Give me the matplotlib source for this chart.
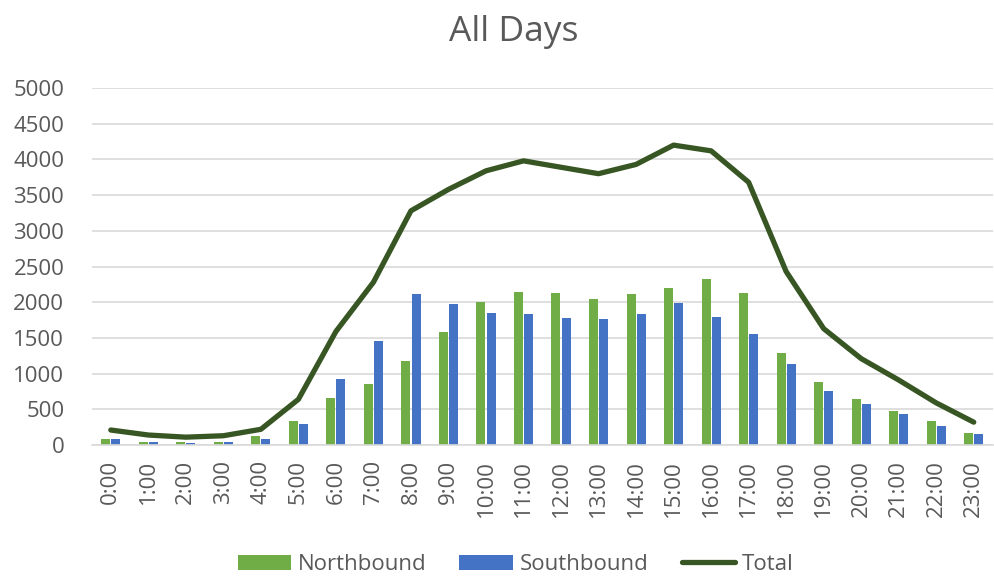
import matplotlib

matplotlib.use("Agg")
import matplotlib.pyplot as plt
import numpy as np

plt.rcParams["font.family"] = ["Open Sans", "DejaVu Sans"]

hours = [f"{h}:00" for h in range(24)]
northbound = [90, 45, 40, 45, 120, 330, 660, 850, 1170, 1580, 2000, 2140,
              2130, 2040, 2110, 2200, 2320, 2130, 1290, 880, 640, 480, 330, 170]
southbound = [90, 45, 35, 45, 90, 290, 920, 1460, 2110, 1980, 1850, 1830,
              1780, 1760, 1840, 1990, 1790, 1550, 1140, 750, 570, 430, 260, 150]
total = [210, 140, 110, 130, 220, 640, 1590, 2280, 3280, 3580, 3840, 3980,
         3890, 3800, 3930, 4200, 4120, 3680, 2430, 1630, 1210, 910, 590, 320]

GREEN = "#70AD47"
BLUE = "#4472C4"
DARK = "#375623"
TEXT = "#595959"

fig = plt.figure(figsize=(9.95, 5.76), dpi=100)
ax = fig.add_axes([0.0925, 0.2274, 0.905, 0.6198])

x = np.arange(len(hours))
w = 0.24
nb = ax.bar(x - 0.135, northbound, w, color=GREEN, label="Northbound", zorder=2)
sb = ax.bar(x + 0.135, southbound, w, color=BLUE, label="Southbound", zorder=2)
tl, = ax.plot(x, total, color=DARK, lw=3.8, solid_joinstyle="round",
              solid_capstyle="round", label="Total", zorder=3)

ax.set_xlim(-0.5, len(hours) - 0.5)
ax.set_ylim(0, 5000)
ax.set_yticks(np.arange(0, 5001, 500))
ax.set_xticks(x)
ax.set_xticklabels(hours, rotation=90)
ax.tick_params(axis="both", length=0, labelsize=16, colors=TEXT)
ax.tick_params(axis="x", pad=11)
ax.tick_params(axis="y", pad=20)
ax.grid(axis="y", color="#d9d9d9", lw=1.2, zorder=0)
ax.set_axisbelow(True)
for side in ("top", "right", "left"):
    ax.spines[side].set_visible(False)
ax.spines["bottom"].set_color("#d9d9d9")
ax.spines["bottom"].set_linewidth(1.2)

fig.text(0.516, 0.944, "All Days", ha="center", va="center",
         fontsize=25.5, color=TEXT)

fig.legend(handles=[nb, sb, tl], loc="center", bbox_to_anchor=(0.518, 0.02),
           ncol=3, frameon=False, fontsize=16, labelcolor=TEXT,
           handlelength=2.4, handleheight=0.65, handletextpad=0.3,
           columnspacing=1.5)

fig.savefig("out.png", dpi=100, facecolor="white")
